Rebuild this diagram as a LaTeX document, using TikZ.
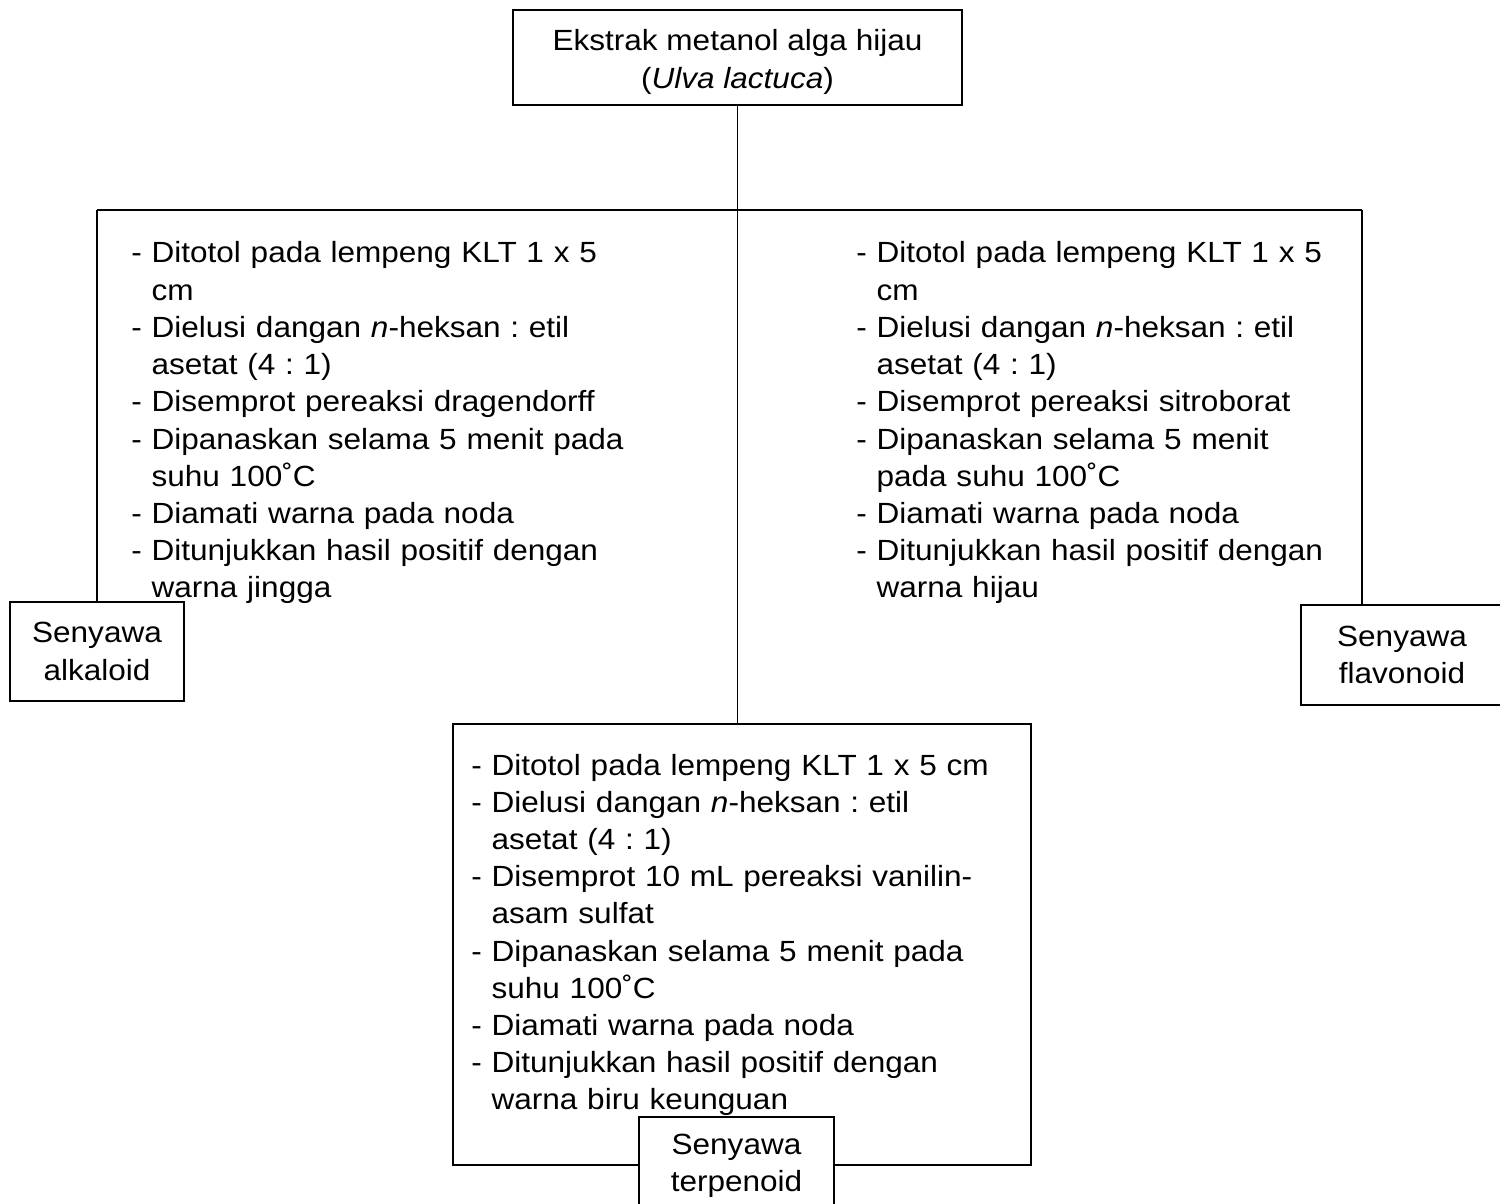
\documentclass[tikz,border=0pt]{standalone}
\usepackage{fontspec}
\setmainfont{Liberation Sans}[FakeStretch=1.08]
\frenchspacing
\begin{document}
\frenchspacing
\begin{tikzpicture}[x=0.5pt,y=-0.5pt,
  every node/.style={font=\fontsize{14.6pt}{18.6pt}\selectfont\frenchspacing},
  box/.style={draw, line width=0.9pt, align=center, inner sep=0pt},
  label/.style={align=center, inner sep=0pt},
  steps/.style={anchor=base west, inner sep=0pt, text width=300pt, align=left},
  link/.style={line width=0.8pt}]
\useasboundingbox (0,0) rectangle (1500,1204);

% boxes
\node[box, minimum width=224.5pt, minimum height=47.5pt] (top) at (737.5,57.5) {};
\node[label] (toptext) at (737.5,62) {Ekstrak metanol alga hijau\\(\textit{Ulva lactuca})};
\node[box, minimum width=289pt, minimum height=220.5pt] (bigbox) at (742,944.5) {};
\node[box, fill=white, minimum width=97.5pt, minimum height=49pt] (terp) at (736.5,1166)
  {Senyawa\\terpenoid};
\node[box, minimum width=87pt, minimum height=49.5pt] (alk) at (97,651.5)
  {Senyawa\\alkaloid};
\node[box, minimum width=101pt, minimum height=50pt] (flav) at (1402,655)
  {Senyawa\\flavonoid};

% connectors
\coordinate (hl) at (97,210);
\coordinate (hr) at (1362,210);
\draw[link] (top.south) -- (top.south |- bigbox.north);
\draw[link] (hl) -- (hr);
\draw[link] (hl) -- (alk.north);
\draw[link] (hr) -- (hr |- flav.north);

% step lists
\node[steps] (left) at (131,263) {%
- Ditotol pada lempeng KLT 1 x 5\\
\hphantom{- }cm\\
- Dielusi dangan \textit{n}-heksan : etil\\
\hphantom{- }asetat (4 : 1)\\
- Disemprot pereaksi dragendorff\\
- Dipanaskan selama 5 menit pada\\
\hphantom{- }suhu 100˚C\\
- Diamati warna pada noda\\
- Ditunjukkan hasil positif dengan\\
\hphantom{- }warna jingga};

\node[steps] (right) at (856,263) {%
- Ditotol pada lempeng KLT 1 x 5\\
\hphantom{- }cm\\
- Dielusi dangan \textit{n}-heksan : etil\\
\hphantom{- }asetat (4 : 1)\\
- Disemprot pereaksi sitroborat\\
- Dipanaskan selama 5 menit\\
\hphantom{- }pada suhu 100˚C\\
- Diamati warna pada noda\\
- Ditunjukkan hasil positif dengan\\
\hphantom{- }warna hijau};

\node[steps] (bottom) at (471,775) {%
- Ditotol pada lempeng KLT 1 x 5 cm\\
- Dielusi dangan \textit{n}-heksan : etil\\
\hphantom{- }asetat (4 : 1)\\
- Disemprot 10 mL pereaksi vanilin-\\
\hphantom{- }asam sulfat\\
- Dipanaskan selama 5 menit pada\\
\hphantom{- }suhu 100˚C\\
- Diamati warna pada noda\\
- Ditunjukkan hasil positif dengan\\
\hphantom{- }warna biru keunguan};
\end{tikzpicture}
\end{document}
